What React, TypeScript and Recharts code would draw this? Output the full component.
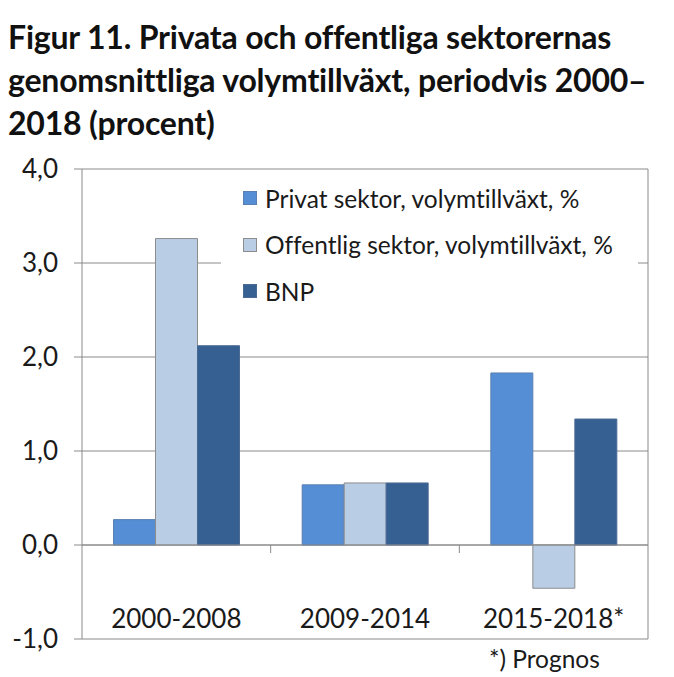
import React from "react";
import {
  BarChart, Bar, XAxis, YAxis, CartesianGrid, ReferenceLine, Legend,
} from "recharts";

// Period categories and the three series (procent)
const periods = ["2000-2008", "2009-2014", "2015-2018*"];
const privat = [0.27, 0.64, 1.83];
const offentlig = [3.26, 0.66, -0.46];
const bnp = [2.12, 0.66, 1.34];
const yTicks = [-1, 0, 1, 2, 3, 4];

const SERIES = [
  { key: "privat", name: "Privat sektor, volymtillväxt, %", fill: "#558ED5", stroke: "#5a7fb0" },
  { key: "offentlig", name: "Offentlig sektor, volymtillväxt, %", fill: "#B9CDE5", stroke: "#8c8c8c" },
  { key: "bnp", name: "BNP", fill: "#376092", stroke: "#4a6a94" },
];

const data = periods.map((p, i) => ({
  period: p,
  privat: privat[i],
  offentlig: offentlig[i],
  bnp: bnp[i],
}));

const W = 674;
const H = 677;
const TOP = 169;
const BOTTOM = 38;
const LEFT_W = 82;
const RIGHT_W = 26;
const FONT = "Lato, 'Open Sans', sans-serif";
const GRID = "#8a8a8a";

const plotH = H - TOP - BOTTOM;
const plotW = W - LEFT_W - RIGHT_W;
const zeroY = TOP + (4 / 5) * plotH;
const band = plotW / periods.length;

// category label sits inside the frame, above the -1,0 line
function CategoryTick(props: any) {
  const { x, payload, index } = props;
  return (
    <g>
      <text
        x={x}
        y={H - BOTTOM - 11}
        textAnchor="middle"
        fontFamily={FONT}
        fontSize={26}
        fill="#1a1a1a"
      >
        {payload.value}
      </text>
      {index < periods.length - 1 && (
        <line x1={x + band / 2} x2={x + band / 2} y1={zeroY} y2={zeroY + 8} stroke={GRID} strokeWidth={1} />
      )}
    </g>
  );
}

function LegendBox() {
  return (
    <div style={{ background: "#fff", width: 417, height: 140, boxSizing: "border-box", paddingTop: 3, paddingLeft: 22 }}>
      {SERIES.map((s) => (
        <div key={s.key} style={{ display: "flex", alignItems: "center", height: 46.5 }}>
          <span style={{ width: 14, height: 14, background: s.fill, border: `1px solid ${s.stroke}`, boxSizing: "border-box", marginRight: 8, flex: "none" }} />
          <span style={{ fontFamily: FONT, fontSize: 24.5, color: "#1a1a1a", whiteSpace: "nowrap", fontVariantLigatures: "none" }}>{s.name}</span>
        </div>
      ))}
    </div>
  );
}

export default function App() {
  return (
    <div style={{ position: "absolute", left: 0, top: 0, width: W, height: H, background: "#fff", overflow: "hidden" }}>
      <div
        style={{
          position: "absolute", left: 8, top: 15, whiteSpace: "nowrap", fontVariantLigatures: "none",
          fontFamily: FONT, fontWeight: 700, fontSize: 32, letterSpacing: -0.2, lineHeight: "43px", color: "#111",
        }}
      >
        Figur 11. Privata och offentliga sektorernas<br />
        genomsnittliga volymtillväxt, periodvis 2000–<br />
        2018 (procent)
      </div>
      <div style={{ position: "absolute", left: 0, top: 0 }}>
        <BarChart
          width={W}
          height={H}
          data={data}
          margin={{ top: TOP, right: 0, bottom: 0, left: 0 }}
          barCategoryGap="16.7%"
          barGap={0}
        >
          <CartesianGrid yAxisId="l" vertical={false} stroke={GRID} />
          <XAxis dataKey="period" height={BOTTOM} axisLine={false} tickLine={false} tick={<CategoryTick />} interval={0} />
          <YAxis
            yAxisId="l"
            width={LEFT_W}
            domain={[-1, 4]}
            ticks={yTicks}
            interval={0}
            tickFormatter={(v: number) => v.toFixed(1).replace(".", ",")}
            tick={{ fontFamily: FONT, fontSize: 26, fill: "#1a1a1a" }}
            tickSize={8}
            tickMargin={16}
            axisLine={{ stroke: GRID }}
            tickLine={{ stroke: GRID }}
          />
          <YAxis
            yAxisId="r"
            orientation="right"
            width={RIGHT_W}
            domain={[-1, 4]}
            ticks={yTicks}
            tick={false}
            tickLine={false}
            axisLine={{ stroke: GRID }}
          />
          <ReferenceLine yAxisId="l" y={0} stroke={GRID} />
          <Legend
            layout="vertical"
            align="center"
            verticalAlign="middle"
            content={() => <LegendBox />}
            wrapperStyle={{ position: "absolute", left: 221, top: 172, width: 417, height: 140 }}
          />
          {SERIES.map((s) => (
            <Bar
              key={s.key}
              yAxisId="l"
              dataKey={s.key}
              name={s.name}
              fill={s.fill}
              stroke={s.stroke}
              strokeWidth={1}
              isAnimationActive={false}
            />
          ))}
        </BarChart>
      </div>
      <div
        style={{
          position: "absolute", left: 489, top: 647, fontFamily: FONT, fontSize: 24.5, lineHeight: "24px", color: "#1a1a1a", whiteSpace: "nowrap",
        }}
      >
        *) Prognos
      </div>
    </div>
  );
}
